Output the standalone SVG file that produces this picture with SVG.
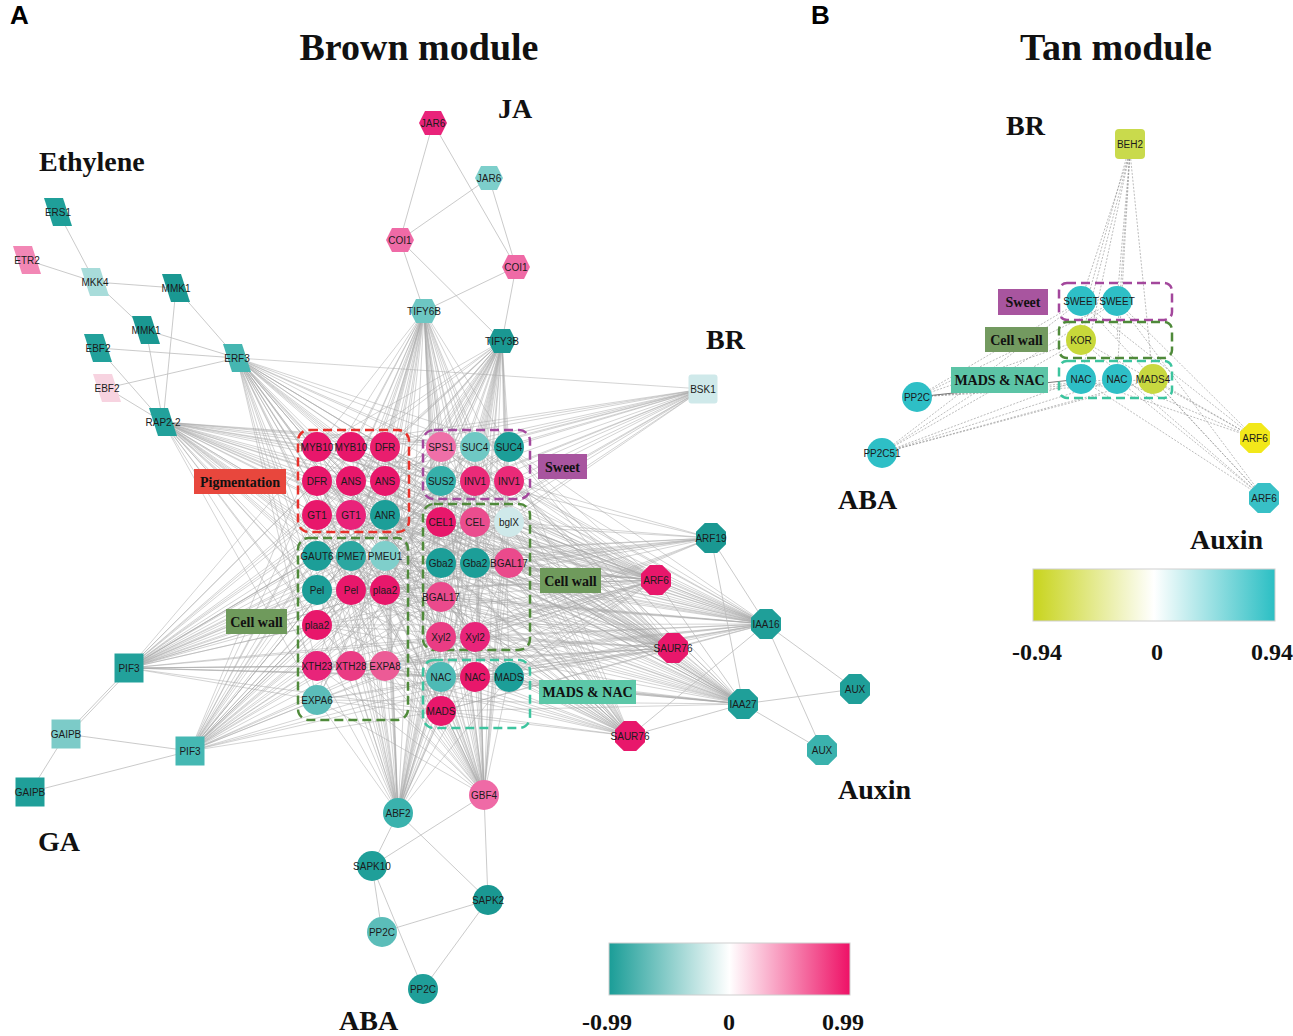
<svg xmlns="http://www.w3.org/2000/svg" xmlns:xlink="http://www.w3.org/1999/xlink" width="1293" height="1036" viewBox="0 0 1293 1036">
<style>
.e{fill:none;stroke:#a8a8a8;stroke-width:0.5}
.ee{fill:none;stroke:#bdbdbd;stroke-width:0.8}
.et{fill:none;stroke:#8e8e8e;stroke-width:0.6;stroke-dasharray:2 1.5}
.t{font-family:"Liberation Sans",Arial,sans-serif;font-size:10px;text-anchor:middle;dominant-baseline:central;fill:#1b1b1b}
.h{font-family:"Liberation Serif","Times New Roman",serif;font-weight:bold;fill:#111}
.lb{font-family:"Liberation Serif","Times New Roman",serif;font-weight:bold;font-size:14px;text-anchor:middle;dominant-baseline:central;fill:#111}
.L{font-family:"Liberation Sans",Arial,sans-serif;font-weight:bold;font-size:26px;fill:#000}
.db{fill:none;stroke-width:2.5;stroke-dasharray:9 5}
</style>
<defs>
<polygon id="par" points="-14,-14 5,-14 14,14 -5,14"/>
<polygon id="hex" points="-14,0 -8,-12 8,-12 14,0 8,12 -8,12"/>
<polygon id="oct" points="-6.2,-15 6.2,-15 15,-6.2 15,6.2 6.2,15 -6.2,15 -15,6.2 -15,-6.2"/>
<rect id="sq" x="-14.5" y="-14.5" width="29" height="29"/>
<rect id="rsq" x="-14.5" y="-14.5" width="29" height="29" rx="3"/>
<linearGradient id="gA" x1="0" x2="1" y1="0" y2="0"><stop offset="0" stop-color="#1a9d97"/><stop offset="0.5" stop-color="#ffffff"/><stop offset="1" stop-color="#ee1166"/></linearGradient>
<linearGradient id="gB" x1="0" x2="1" y1="0" y2="0"><stop offset="0" stop-color="#c8d41c"/><stop offset="0.5" stop-color="#ffffff"/><stop offset="1" stop-color="#2bbfc4"/></linearGradient>
</defs>
<rect width="1293" height="1036" fill="#fff"/>

<g id="connectors">
<path class="e" d="M237 358L317 447M237 358L351 447M237 358L385 447M237 358L317 481M237 358L351 481M237 358L385 481M237 358L317 515M237 358L351 515M237 358L385 515M237 358L441 447M237 358L475 447M237 358L509 447M237 358L441 481M237 358L475 481M237 358L509 481M237 358L441 522M237 358L475 522M237 358L509 522M237 358L441 563M237 358L475 563M237 358L509 563M237 358L441 597M237 358L441 637M237 358L475 637M237 358L317 556M237 358L351 556M237 358L385 556M237 358L317 590M237 358L351 590M237 358L385 590M237 358L317 625M237 358L317 666M237 358L351 666M237 358L385 666M237 358L317 700M237 358L441 677M237 358L475 677M237 358L509 677M237 358L441 711"/>
<path class="e" d="M163 422L317 447M163 422L351 447M163 422L385 447M163 422L317 481M163 422L351 481M163 422L385 481M163 422L317 515M163 422L351 515M163 422L385 515M163 422L441 447M163 422L475 447M163 422L509 447M163 422L441 481M163 422L475 481M163 422L509 481M163 422L441 522M163 422L475 522M163 422L509 522M163 422L441 563M163 422L475 563M163 422L509 563M163 422L441 597M163 422L441 637M163 422L475 637M163 422L317 556M163 422L351 556M163 422L385 556M163 422L317 590M163 422L351 590M163 422L385 590M163 422L317 625M163 422L317 666M163 422L351 666M163 422L385 666M163 422L317 700M163 422L441 677M163 422L475 677M163 422L509 677M163 422L441 711"/>
<path class="e" d="M424 311L317 447M424 311L351 447M424 311L385 447M424 311L317 481M424 311L351 481M424 311L385 481M424 311L317 515M424 311L351 515M424 311L385 515M424 311L441 447M424 311L475 447M424 311L509 447M424 311L441 481M424 311L475 481M424 311L509 481M424 311L441 522M424 311L475 522M424 311L509 522M424 311L441 563M424 311L475 563M424 311L509 563M424 311L441 597M424 311L441 637M424 311L475 637M424 311L317 556M424 311L351 556M424 311L385 556M424 311L317 590M424 311L351 590M424 311L385 590M424 311L317 625M424 311L317 666M424 311L351 666M424 311L385 666M424 311L317 700M424 311L441 677M424 311L475 677M424 311L509 677M424 311L441 711"/>
<path class="e" d="M502 341L317 447M502 341L351 447M502 341L385 447M502 341L317 481M502 341L351 481M502 341L385 481M502 341L317 515M502 341L351 515M502 341L385 515M502 341L441 447M502 341L475 447M502 341L509 447M502 341L441 481M502 341L475 481M502 341L509 481M502 341L441 522M502 341L475 522M502 341L509 522M502 341L441 563M502 341L475 563M502 341L509 563M502 341L441 597M502 341L441 637M502 341L475 637M502 341L317 556M502 341L351 556M502 341L385 556M502 341L317 590M502 341L351 590M502 341L385 590M502 341L317 625M502 341L317 666M502 341L351 666M502 341L385 666M502 341L317 700M502 341L441 677M502 341L475 677M502 341L509 677M502 341L441 711"/>
<path class="e" d="M129 668L317 447M129 668L351 447M129 668L385 447M129 668L317 481M129 668L351 481M129 668L385 481M129 668L317 515M129 668L351 515M129 668L385 515M129 668L441 447M129 668L475 447M129 668L509 447M129 668L441 481M129 668L475 481M129 668L509 481M129 668L441 522M129 668L475 522M129 668L509 522M129 668L441 563M129 668L475 563M129 668L509 563M129 668L441 597M129 668L441 637M129 668L475 637M129 668L317 556M129 668L351 556M129 668L385 556M129 668L317 590M129 668L351 590M129 668L385 590M129 668L317 625M129 668L317 666M129 668L351 666M129 668L385 666M129 668L317 700M129 668L441 677M129 668L475 677M129 668L509 677M129 668L441 711"/>
<path class="e" d="M190 751L317 447M190 751L351 447M190 751L385 447M190 751L317 481M190 751L351 481M190 751L385 481M190 751L317 515M190 751L351 515M190 751L385 515M190 751L441 447M190 751L475 447M190 751L509 447M190 751L441 481M190 751L475 481M190 751L509 481M190 751L441 522M190 751L475 522M190 751L509 522M190 751L441 563M190 751L475 563M190 751L509 563M190 751L441 597M190 751L441 637M190 751L475 637M190 751L317 556M190 751L351 556M190 751L385 556M190 751L317 590M190 751L351 590M190 751L385 590M190 751L317 625M190 751L317 666M190 751L351 666M190 751L385 666M190 751L317 700M190 751L441 677M190 751L475 677M190 751L509 677M190 751L441 711"/>
<path class="e" d="M398 813L317 447M398 813L351 447M398 813L385 447M398 813L317 481M398 813L351 481M398 813L385 481M398 813L317 515M398 813L351 515M398 813L385 515M398 813L441 447M398 813L475 447M398 813L509 447M398 813L441 481M398 813L475 481M398 813L509 481M398 813L441 522M398 813L475 522M398 813L509 522M398 813L441 563M398 813L475 563M398 813L509 563M398 813L441 597M398 813L441 637M398 813L475 637M398 813L317 556M398 813L351 556M398 813L385 556M398 813L317 590M398 813L351 590M398 813L385 590M398 813L317 625M398 813L317 666M398 813L351 666M398 813L385 666M398 813L317 700M398 813L441 677M398 813L475 677M398 813L509 677M398 813L441 711"/>
<path class="e" d="M484 795L317 447M484 795L351 447M484 795L385 447M484 795L317 481M484 795L351 481M484 795L385 481M484 795L317 515M484 795L351 515M484 795L385 515M484 795L441 447M484 795L475 447M484 795L509 447M484 795L441 481M484 795L475 481M484 795L509 481M484 795L441 522M484 795L475 522M484 795L509 522M484 795L441 563M484 795L475 563M484 795L509 563M484 795L441 597M484 795L441 637M484 795L475 637M484 795L317 556M484 795L351 556M484 795L385 556M484 795L317 590M484 795L351 590M484 795L385 590M484 795L317 625M484 795L317 666M484 795L351 666M484 795L385 666M484 795L317 700M484 795L441 677M484 795L475 677M484 795L509 677M484 795L441 711"/>
<path class="e" d="M656 580L317 447M656 580L351 447M656 580L385 447M656 580L317 481M656 580L351 481M656 580L385 481M656 580L317 515M656 580L351 515M656 580L385 515M656 580L441 447M656 580L475 447M656 580L509 447M656 580L441 481M656 580L475 481M656 580L509 481M656 580L441 522M656 580L475 522M656 580L509 522M656 580L441 563M656 580L475 563M656 580L509 563M656 580L441 597M656 580L441 637M656 580L475 637M656 580L317 556M656 580L351 556M656 580L385 556M656 580L317 590M656 580L351 590M656 580L385 590M656 580L317 625M656 580L317 666M656 580L351 666M656 580L385 666M656 580L317 700M656 580L441 677M656 580L475 677M656 580L509 677M656 580L441 711"/>
<path class="e" d="M766 624L317 447M766 624L351 447M766 624L385 447M766 624L317 481M766 624L351 481M766 624L385 481M766 624L317 515M766 624L351 515M766 624L385 515M766 624L441 447M766 624L475 447M766 624L509 447M766 624L441 481M766 624L475 481M766 624L509 481M766 624L441 522M766 624L475 522M766 624L509 522M766 624L441 563M766 624L475 563M766 624L509 563M766 624L441 597M766 624L441 637M766 624L475 637M766 624L317 556M766 624L351 556M766 624L385 556M766 624L317 590M766 624L351 590M766 624L385 590M766 624L317 625M766 624L317 666M766 624L351 666M766 624L385 666M766 624L317 700M766 624L441 677M766 624L475 677M766 624L509 677M766 624L441 711"/>
<path class="e" d="M673 648L317 447M673 648L351 447M673 648L385 447M673 648L317 481M673 648L351 481M673 648L385 481M673 648L317 515M673 648L351 515M673 648L385 515M673 648L441 447M673 648L475 447M673 648L509 447M673 648L441 481M673 648L475 481M673 648L509 481M673 648L441 522M673 648L475 522M673 648L509 522M673 648L441 563M673 648L475 563M673 648L509 563M673 648L441 597M673 648L441 637M673 648L475 637M673 648L317 556M673 648L351 556M673 648L385 556M673 648L317 590M673 648L351 590M673 648L385 590M673 648L317 625M673 648L317 666M673 648L351 666M673 648L385 666M673 648L317 700M673 648L441 677M673 648L475 677M673 648L509 677M673 648L441 711"/>
<path class="e" d="M630 736L317 447M630 736L351 447M630 736L385 447M630 736L317 481M630 736L351 481M630 736L385 481M630 736L317 515M630 736L351 515M630 736L385 515M630 736L441 447M630 736L475 447M630 736L509 447M630 736L441 481M630 736L475 481M630 736L509 481M630 736L441 522M630 736L475 522M630 736L509 522M630 736L441 563M630 736L475 563M630 736L509 563M630 736L441 597M630 736L441 637M630 736L475 637M630 736L317 556M630 736L351 556M630 736L385 556M630 736L317 590M630 736L351 590M630 736L385 590M630 736L317 625M630 736L317 666M630 736L351 666M630 736L385 666M630 736L317 700M630 736L441 677M630 736L475 677M630 736L509 677M630 736L441 711"/>
<path class="e" d="M743 704L317 447M743 704L351 447M743 704L385 447M743 704L317 481M743 704L351 481M743 704L385 481M743 704L317 515M743 704L351 515M743 704L385 515M743 704L441 447M743 704L475 447M743 704L509 447M743 704L441 481M743 704L475 481M743 704L509 481M743 704L441 522M743 704L475 522M743 704L509 522M743 704L441 563M743 704L475 563M743 704L509 563M743 704L441 597M743 704L441 637M743 704L475 637M743 704L317 556M743 704L351 556M743 704L385 556M743 704L317 590M743 704L351 590M743 704L385 590M743 704L317 625M743 704L317 666M743 704L351 666M743 704L385 666M743 704L317 700M743 704L441 677M743 704L475 677M743 704L509 677M743 704L441 711"/>
<path class="e" d="M703 389L317 447M703 389L351 447M703 389L385 447M703 389L441 447M703 389L475 447M703 389L509 447M703 389L441 481M703 389L475 481M703 389L509 481M703 389L385 481M703 389L351 481M703 389L317 481M703 389L441 522M703 389L475 522M703 389L509 522M703 389L385 515M703 389L317 556M703 389L351 590M703 389L441 563M703 389L317 625M703 389L237 358"/>
<path class="e" d="M711 538L509 522M711 538L509 563M711 538L475 563M711 538L441 563M711 538L441 597M711 538L475 637M711 538L441 637M711 538L385 590M711 538L385 556M711 538L351 556M711 538L317 590M711 538L509 481M711 538L475 481M711 538L385 666M711 538L317 515"/>
<path class="e" d="M317 447L509 677M351 447L475 637M385 447L441 711M317 481L509 563M351 481L475 677M385 481L441 637M317 515L509 522M351 515L441 597M385 515L475 563M441 447L317 700M475 447L351 666M509 447L385 590M441 481L317 625M475 481L351 590M509 481L317 556M441 522L385 666M475 522L317 666M509 522L351 556M441 563L317 447M475 563L385 447M509 563L351 481M441 597L385 515M441 637L317 481M475 637L351 447M317 556L509 677M351 556L441 711M385 556L475 677M317 590L509 447M351 590L475 447M385 590L441 481M424 311L398 813M424 311L484 795M502 341L398 813M502 341L484 795M237 358L743 704M163 422L673 648"/>
<path class="ee" d="M58 212L95 282M27 260L95 282M95 282L176 288M95 282L146 330M176 288L237 358M176 288L163 422M146 330L237 358M146 330L163 422M98 348L237 358M98 348L163 422M107 388L237 358M107 388L163 422"/>
<path class="ee" d="M433 123L400 240M433 123L516 267M489 178L400 240M489 178L516 267M400 240L424 311M400 240L502 341M516 267L424 311M516 267L502 341"/>
<path class="ee" d="M711 538L766 624M711 538L743 704M656 580L743 704M673 648L766 624M766 624L855 689M766 624L822 750M630 736L766 624M630 736L743 704M743 704L855 689M743 704L822 750"/>
<path class="ee" d="M129 668L66 734M131 669L68 735M66 734L30 792M66 734L190 751M30 792L190 751"/>
<path class="ee" d="M398 813L372 866M398 813L488 900M484 795L372 866M484 795L488 900M372 866L382 932M372 866L423 989M488 900L382 932M488 900L423 989"/>
<path class="et" d="M1130 152L1081 301M1130 152L1117 301M1130 152L1081 340M1130 152L1081 379M1130 152L1117 379M1130 152L1153 379M1130 152L1117 340M1128 152L1090 290"/>
<path class="et" d="M917 397L1081 301M917 397L1117 301M917 397L1081 340M917 397L1117 379M917 397L1153 379M917 397L1100 386"/>
<path class="et" d="M882 453L1081 301M882 453L1117 301M882 453L1081 340M882 453L1081 379M882 453L1117 379M882 453L1153 379M882 453L1100 395"/>
<path class="et" d="M1255 438L1081 301M1255 438L1117 301M1255 438L1081 340M1255 438L1081 379M1255 438L1117 379M1255 438L1153 379"/>
<path class="et" d="M1264 498L1081 301M1264 498L1117 301M1264 498L1081 340M1264 498L1081 379M1264 498L1117 379M1264 498L1153 379"/>
<path d="M917 397L1081 379" fill="none" stroke="#777" stroke-width="1"/>
</g>

<g id="titles">
<text class="L" x="10" y="24">A</text>
<text class="L" x="811" y="24">B</text>
<text class="h" x="419" y="60" font-size="38" text-anchor="middle">Brown module</text>
<text class="h" x="1116" y="60" font-size="38" text-anchor="middle">Tan module</text>
<text class="h" x="498" y="118" font-size="28">JA</text>
<text class="h" x="39" y="171" font-size="28">Ethylene</text>
<text class="h" x="706" y="349" font-size="28">BR</text>
<text class="h" x="38" y="851" font-size="28">GA</text>
<text class="h" x="838" y="799" font-size="28">Auxin</text>
<text class="h" x="339" y="1030" font-size="28">ABA</text>
<text class="h" x="1006" y="135" font-size="28">BR</text>
<text class="h" x="838" y="509" font-size="28">ABA</text>
<text class="h" x="1190" y="549" font-size="28">Auxin</text>
</g>

<g id="legendA">
<rect x="609" y="943" width="241" height="52" fill="url(#gA)" stroke="#cfcfcf" stroke-width="1"/>
<text class="h" x="607" y="1030" font-size="24" text-anchor="middle">-0.99</text>
<text class="h" x="729" y="1030" font-size="24" text-anchor="middle">0</text>
<text class="h" x="843" y="1030" font-size="24" text-anchor="middle">0.99</text>
</g>
<g id="legendB">
<rect x="1033" y="569" width="242" height="52" fill="url(#gB)" stroke="#cfcfcf" stroke-width="1"/>
<text class="h" x="1037" y="660" font-size="24" text-anchor="middle">-0.94</text>
<text class="h" x="1157" y="660" font-size="24" text-anchor="middle">0</text>
<text class="h" x="1272" y="660" font-size="24" text-anchor="middle">0.94</text>
</g>

<g id="groups">
<rect class="db" x="298" y="430" width="111" height="102" rx="11" stroke="#e8302a"/>
<rect class="db" x="423" y="430" width="107" height="69" rx="11" stroke="#a3479c"/>
<rect class="db" x="423" y="504" width="107" height="146" rx="11" stroke="#4f8a3a"/>
<rect class="db" x="298" y="538" width="110" height="182" rx="11" stroke="#4f8a3a"/>
<rect class="db" x="423" y="660" width="107" height="68" rx="11" stroke="#3cc49e"/>
<rect class="db" x="1059" y="283" width="113" height="37" rx="8" stroke="#a3479c"/>
<rect class="db" x="1059" y="322" width="113" height="36" rx="8" stroke="#4f8a3a"/>
<rect class="db" x="1059" y="361" width="113" height="37" rx="8" stroke="#3cc49e"/>
</g>

<g id="labels">
<g id="lab-pigmentation"><rect x="194" y="469" width="92" height="25" fill="#e8473d"/><text class="lb" x="240" y="482">Pigmentation</text></g>
<g id="lab-sweet"><rect x="538" y="454" width="49" height="25" fill="#a8559f"/><text class="lb" x="562.5" y="467">Sweet</text></g>
<g id="lab-cellwall-r"><rect x="540" y="568" width="61" height="25" fill="#6f9a5c"/><text class="lb" x="570.5" y="581">Cell wall</text></g>
<g id="lab-cellwall-l"><rect x="226" y="609" width="61" height="25" fill="#6f9a5c"/><text class="lb" x="256.5" y="622">Cell wall</text></g>
<g id="lab-madsnac"><rect x="539" y="680" width="97" height="24" fill="#5cc8a8"/><text class="lb" x="587.5" y="692.5">MADS &amp; NAC</text></g>
<g id="lab-tan-sweet"><rect x="998" y="289" width="50" height="26" fill="#a8559f"/><text class="lb" x="1023" y="302.5">Sweet</text></g>
<g id="lab-tan-cellwall"><rect x="985" y="327" width="63" height="25" fill="#739a60"/><text class="lb" x="1016.5" y="340">Cell wall</text></g>
<g id="lab-tan-madsnac"><rect x="951" y="367" width="97" height="26" fill="#5cc4a6"/><text class="lb" x="999.5" y="380.5">MADS &amp; NAC</text></g>
</g>

<g id="nodes-ethylene">
<g id="n-ERS1"><use href="#par" x="58" y="212" fill="#1f9f99"/><text class="t" x="58" y="212">ERS1</text></g>
<g id="n-ETR2"><use href="#par" x="27" y="260" fill="#f287b5"/><text class="t" x="27" y="260">ETR2</text></g>
<g id="n-MKK4"><use href="#par" x="95" y="282" fill="#a8dcda"/><text class="t" x="95" y="282">MKK4</text></g>
<g id="n-MMK1a"><use href="#par" x="176" y="288" fill="#1a9892"/><text class="t" x="176" y="288">MMK1</text></g>
<g id="n-MMK1b"><use href="#par" x="146" y="330" fill="#1a9892"/><text class="t" x="146" y="330">MMK1</text></g>
<g id="n-EBF2a"><use href="#par" x="98" y="348" fill="#22a19b"/><text class="t" x="98" y="348">EBF2</text></g>
<g id="n-EBF2b"><use href="#par" x="107" y="388" fill="#f7d3e0"/><text class="t" x="107" y="388">EBF2</text></g>
<g id="n-ERF3"><use href="#par" x="237" y="358" fill="#45b6b1"/><text class="t" x="237" y="358">ERF3</text></g>
<g id="n-RAP2-2"><use href="#par" x="163" y="422" fill="#22a19b"/><text class="t" x="163" y="422">RAP2-2</text></g>
</g>

<g id="nodes-ja">
<g id="n-JAR6a"><use href="#hex" x="433" y="123" fill="#e9237a"/><text class="t" x="433" y="123">JAR6</text></g>
<g id="n-JAR6b"><use href="#hex" x="489" y="178" fill="#7dcfcb"/><text class="t" x="489" y="178">JAR6</text></g>
<g id="n-COI1a"><use href="#hex" x="400" y="240" fill="#ef6aa6"/><text class="t" x="400" y="240">COI1</text></g>
<g id="n-COI1b"><use href="#hex" x="516" y="267" fill="#ef6aa6"/><text class="t" x="516" y="267">COI1</text></g>
<g id="n-TIFY6B"><use href="#hex" x="424" y="311" fill="#6dc7c3"/><text class="t" x="424" y="311">TIFY6B</text></g>
<g id="n-TIFY3B"><use href="#hex" x="502" y="341" fill="#1a9892"/><text class="t" x="502" y="341">TIFY3B</text></g>
</g>

<g id="nodes-br">
<g id="n-BSK1"><use href="#rsq" x="703" y="389" fill="#cfe9ea"/><text class="t" x="703" y="389">BSK1</text></g>
</g>

<g id="nodes-auxin">
<g id="n-ARF19"><use href="#oct" x="711" y="538" fill="#1a9892"/><text class="t" x="711" y="538">ARF19</text></g>
<g id="n-ARF6"><use href="#oct" x="656" y="580" fill="#e8176b"/><text class="t" x="656" y="580">ARF6</text></g>
<g id="n-IAA16"><use href="#oct" x="766" y="624" fill="#1f9f99"/><text class="t" x="766" y="624">IAA16</text></g>
<g id="n-SAUR76a"><use href="#oct" x="673" y="648" fill="#e8176b"/><text class="t" x="673" y="648">SAUR76</text></g>
<g id="n-SAUR76b"><use href="#oct" x="630" y="736" fill="#e8176b"/><text class="t" x="630" y="736">SAUR76</text></g>
<g id="n-IAA27"><use href="#oct" x="743" y="704" fill="#1f9f99"/><text class="t" x="743" y="704">IAA27</text></g>
<g id="n-AUXa"><use href="#oct" x="855" y="689" fill="#1f9f99"/><text class="t" x="855" y="689">AUX</text></g>
<g id="n-AUXb"><use href="#oct" x="822" y="750" fill="#3ab2ad"/><text class="t" x="822" y="750">AUX</text></g>
</g>

<g id="nodes-ga">
<g id="n-PIF3a"><use href="#sq" x="129" y="668" fill="#22a19b"/><text class="t" x="129" y="668">PIF3</text></g>
<g id="n-GAIPBa"><use href="#sq" x="66" y="734" fill="#7ccbc8"/><text class="t" x="66" y="734">GAIPB</text></g>
<g id="n-GAIPBb"><use href="#sq" x="30" y="792" fill="#1f9f99"/><text class="t" x="30" y="792">GAIPB</text></g>
<g id="n-PIF3b"><use href="#sq" x="190" y="751" fill="#45b8b3"/><text class="t" x="190" y="751">PIF3</text></g>
</g>

<g id="nodes-aba">
<g id="n-ABF2"><circle cx="398" cy="813" r="15" fill="#3ab2ad"/><text class="t" x="398" y="813">ABF2</text></g>
<g id="n-GBF4"><circle cx="484" cy="795" r="15" fill="#ef6aa6"/><text class="t" x="484" y="795">GBF4</text></g>
<g id="n-SAPK10"><circle cx="372" cy="866" r="15" fill="#1f9f99"/><text class="t" x="372" y="866">SAPK10</text></g>
<g id="n-SAPK2"><circle cx="488" cy="900" r="15" fill="#1a9892"/><text class="t" x="488" y="900">SAPK2</text></g>
<g id="n-PP2Ca"><circle cx="382" cy="932" r="15" fill="#5bbdb9"/><text class="t" x="382" y="932">PP2C</text></g>
<g id="n-PP2Cb"><circle cx="423" cy="989" r="15" fill="#1f9f99"/><text class="t" x="423" y="989">PP2C</text></g>
</g>

<g id="nodes-pigmentation">
<g id="n-MYB10a"><circle cx="317" cy="447" r="15" fill="#e8176b"/><text class="t" x="317" y="447">MYB10</text></g>
<g id="n-MYB10b"><circle cx="351" cy="447" r="15" fill="#e8176b"/><text class="t" x="351" y="447">MYB10</text></g>
<g id="n-DFRa"><circle cx="385" cy="447" r="15" fill="#e91e6e"/><text class="t" x="385" y="447">DFR</text></g>
<g id="n-DFRb"><circle cx="317" cy="481" r="15" fill="#e8176b"/><text class="t" x="317" y="481">DFR</text></g>
<g id="n-ANSa"><circle cx="351" cy="481" r="15" fill="#e8176b"/><text class="t" x="351" y="481">ANS</text></g>
<g id="n-ANSb"><circle cx="385" cy="481" r="15" fill="#e8176b"/><text class="t" x="385" y="481">ANS</text></g>
<g id="n-GT1a"><circle cx="317" cy="515" r="15" fill="#e8176b"/><text class="t" x="317" y="515">GT1</text></g>
<g id="n-GT1b"><circle cx="351" cy="515" r="15" fill="#e9237a"/><text class="t" x="351" y="515">GT1</text></g>
<g id="n-ANR"><circle cx="385" cy="515" r="15" fill="#1c9e98"/><text class="t" x="385" y="515">ANR</text></g>
</g>

<g id="nodes-sweet">
<g id="n-SPS1"><circle cx="441" cy="447" r="15" fill="#ef6fa8"/><text class="t" x="441" y="447">SPS1</text></g>
<g id="n-SUC4a"><circle cx="475" cy="447" r="15" fill="#6fc8c4"/><text class="t" x="475" y="447">SUC4</text></g>
<g id="n-SUC4b"><circle cx="509" cy="447" r="15" fill="#1c9e98"/><text class="t" x="509" y="447">SUC4</text></g>
<g id="n-SUS2"><circle cx="441" cy="481" r="15" fill="#36b0aa"/><text class="t" x="441" y="481">SUS2</text></g>
<g id="n-INV1a"><circle cx="475" cy="481" r="15" fill="#ea2a78"/><text class="t" x="475" y="481">INV1</text></g>
<g id="n-INV1b"><circle cx="509" cy="481" r="15" fill="#ea2a78"/><text class="t" x="509" y="481">INV1</text></g>
</g>

<g id="nodes-cellwall-right">
<g id="n-CEL1"><circle cx="441" cy="522" r="15" fill="#e8176b"/><text class="t" x="441" y="522">CEL1</text></g>
<g id="n-CEL"><circle cx="475" cy="522" r="15" fill="#ea4d8e"/><text class="t" x="475" y="522">CEL</text></g>
<g id="n-bglX"><circle cx="509" cy="522" r="15" fill="#cfe9ea"/><text class="t" x="509" y="522">bglX</text></g>
<g id="n-Gba2a"><circle cx="441" cy="563" r="15" fill="#1c9e98"/><text class="t" x="441" y="563">Gba2</text></g>
<g id="n-Gba2b"><circle cx="475" cy="563" r="15" fill="#1c9e98"/><text class="t" x="475" y="563">Gba2</text></g>
<g id="n-BGAL17a"><circle cx="509" cy="563" r="15" fill="#ea4a8c"/><text class="t" x="509" y="563">BGAL17</text></g>
<g id="n-BGAL17b"><circle cx="441" cy="597" r="15" fill="#ea4a8c"/><text class="t" x="441" y="597">BGAL17</text></g>
<g id="n-Xyl2a"><circle cx="441" cy="637" r="15" fill="#ea3c84"/><text class="t" x="441" y="637">Xyl2</text></g>
<g id="n-Xyl2b"><circle cx="475" cy="637" r="15" fill="#e8247a"/><text class="t" x="475" y="637">Xyl2</text></g>
</g>

<g id="nodes-cellwall-left">
<g id="n-GAUT6"><circle cx="317" cy="556" r="15" fill="#1c9e98"/><text class="t" x="317" y="556">GAUT6</text></g>
<g id="n-PME7"><circle cx="351" cy="556" r="15" fill="#2ba7a1"/><text class="t" x="351" y="556">PME7</text></g>
<g id="n-PMEU1"><circle cx="385" cy="556" r="15" fill="#7fcfcb"/><text class="t" x="385" y="556">PMEU1</text></g>
<g id="n-Pela"><circle cx="317" cy="590" r="15" fill="#1c9e98"/><text class="t" x="317" y="590">Pel</text></g>
<g id="n-Pelb"><circle cx="351" cy="590" r="15" fill="#e8176b"/><text class="t" x="351" y="590">Pel</text></g>
<g id="n-plaa2a"><circle cx="385" cy="590" r="15" fill="#e8176b"/><text class="t" x="385" y="590">plaa2</text></g>
<g id="n-plaa2b"><circle cx="317" cy="625" r="15" fill="#e8176b"/><text class="t" x="317" y="625">plaa2</text></g>
<g id="n-XTH23"><circle cx="317" cy="666" r="15" fill="#e8247a"/><text class="t" x="317" y="666">XTH23</text></g>
<g id="n-XTH28"><circle cx="351" cy="666" r="15" fill="#ea3c84"/><text class="t" x="351" y="666">XTH28</text></g>
<g id="n-EXPA8"><circle cx="385" cy="666" r="15" fill="#ec5b96"/><text class="t" x="385" y="666">EXPA8</text></g>
<g id="n-EXPA6"><circle cx="317" cy="700" r="15" fill="#5bbdb9"/><text class="t" x="317" y="700">EXPA6</text></g>
</g>

<g id="nodes-madsnac">
<g id="n-NACa"><circle cx="441" cy="677" r="15" fill="#4dbab5"/><text class="t" x="441" y="677">NAC</text></g>
<g id="n-NACb"><circle cx="475" cy="677" r="15" fill="#e8176b"/><text class="t" x="475" y="677">NAC</text></g>
<g id="n-MADSa"><circle cx="509" cy="677" r="15" fill="#1c9e98"/><text class="t" x="509" y="677">MADS</text></g>
<g id="n-MADSb"><circle cx="441" cy="711" r="15" fill="#e8176b"/><text class="t" x="441" y="711">MADS</text></g>
</g>

<g id="nodes-tan">
<g id="t-BEH2"><rect x="1115" y="129" width="30" height="30" rx="4" fill="#c9da4c"/><text class="t" x="1130" y="144">BEH2</text></g>
<g id="t-SWEETa"><circle cx="1081" cy="301" r="15" fill="#2ebfc6"/><text class="t" x="1081" y="301">SWEET</text></g>
<g id="t-SWEETb"><circle cx="1117" cy="301" r="15" fill="#2ebfc6"/><text class="t" x="1117" y="301">SWEET</text></g>
<g id="t-KOR"><circle cx="1081" cy="340" r="15" fill="#c8d83a"/><text class="t" x="1081" y="340">KOR</text></g>
<g id="t-NACa"><circle cx="1081" cy="379" r="15" fill="#2ebfc6"/><text class="t" x="1081" y="379">NAC</text></g>
<g id="t-NACb"><circle cx="1117" cy="379" r="15" fill="#2ebfc6"/><text class="t" x="1117" y="379">NAC</text></g>
<g id="t-MADS4"><circle cx="1153" cy="379" r="15" fill="#c8d840"/><text class="t" x="1153" y="379">MADS4</text></g>
<g id="t-PP2C"><circle cx="917" cy="397" r="15" fill="#2ebfc6"/><text class="t" x="917" y="397">PP2C</text></g>
<g id="t-PP2C51"><circle cx="882" cy="453" r="15" fill="#2ebfc6"/><text class="t" x="882" y="453">PP2C51</text></g>
<g id="t-ARF6a"><use href="#oct" x="1255" y="438" fill="#f2e81a"/><text class="t" x="1255" y="438">ARF6</text></g>
<g id="t-ARF6b"><use href="#oct" x="1264" y="498" fill="#38c0c6"/><text class="t" x="1264" y="498">ARF6</text></g>
</g>
</svg>
